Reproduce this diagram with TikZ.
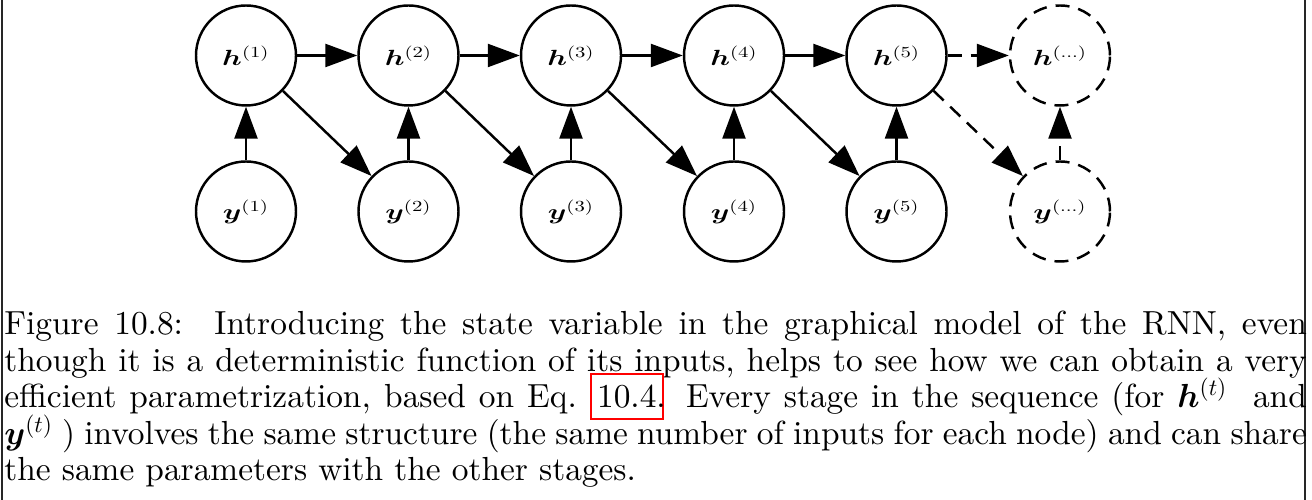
\RequirePackage{fix-cm}
\documentclass[tikz,border=0pt]{standalone}
\usepackage{bm}
\usepackage{graphicx}
\usetikzlibrary{arrows.meta}

% one design size for every size, as in the reference
\DeclareFontShape{TU}{lmr}{m}{n}{<->\UnicodeFontFile{lmroman10-regular}{\UnicodeFontTeXLigatures}}{}
\DeclareFontShape{OT1}{cmr}{m}{n}{<->cmr10}{}
\DeclareFontShape{OML}{cmm}{m}{it}{<->cmmi10}{}
\DeclareFontShape{OML}{cmm}{b}{it}{<->cmmib10}{}

\newcommand{\lbl}[2]{\scalebox{1.35}[1]{$\bm #1^{(#2)}$}}

\newsavebox{\linkcontent}
\newcommand{\linkbox}[1]{\sbox{\linkcontent}{#1}\rlap{\kern-4pt\raisebox{-5.7pt}{\textcolor{red}{\fboxsep=0pt\fboxrule=1.1pt\fbox{\rule{0pt}{\dimexpr\ht\linkcontent+11.7pt\relax}\rule{\dimexpr\wd\linkcontent+6pt\relax}{0pt}}}}}\usebox{\linkcontent}}

\begin{document}
\begin{tikzpicture}[
  unit/.style={circle,draw,line width=1.4pt,minimum size=2cm,inner sep=0pt,font=\fontsize{12.5}{14}\selectfont},
  ghost/.style={unit,dash pattern=on 0.28cm off 0.18cm},
  flow/.style={line width=1.4pt,-{Triangle[length=0.64cm,width=0.46cm]}},
  ghostflow/.style={flow,dash pattern=on 0.28cm off 0.18cm},
  captionline/.style={anchor=base west,inner sep=0pt,font=\fontsize{19}{21}\selectfont}
]
\useasboundingbox (0,0) rectangle (26.24,10);
%\draw[step=1cm,gray,very thin] (0,0) grid (26.24,10); %background grid

\draw[line width=0.05cm,black!85] (0.04,0) -- (0.04,10); %left border
\draw[line width=0.05cm,black!85] (26.1,0) -- (26.1,10); %right border

% hidden states
\node[unit] (h1) at (4.92,8.89) {\lbl{h}{1}};
\node[unit] (h2) at (8.17,8.89) {\lbl{h}{2}};
\node[unit] (h3) at (11.42,8.89) {\lbl{h}{3}};
\node[unit] (h4) at (14.68,8.89) {\lbl{h}{4}};
\node[unit] (h5) at (17.93,8.89) {\lbl{h}{5}};
\node[ghost] (hn) at (21.2,8.89) {\lbl{h}{\ldots}};

% outputs
\node[unit] (y1) at (4.92,5.77) {\lbl{y}{1}};
\node[unit] (y2) at (8.17,5.77) {\lbl{y}{2}};
\node[unit] (y3) at (11.42,5.77) {\lbl{y}{3}};
\node[unit] (y4) at (14.68,5.77) {\lbl{y}{4}};
\node[unit] (y5) at (17.93,5.77) {\lbl{y}{5}};
\node[ghost] (yn) at (21.2,5.77) {\lbl{y}{\ldots}};

\draw[flow] (h1) -- (h2); %chain
\draw[flow] (h2) -- (h3);
\draw[flow] (h3) -- (h4);
\draw[flow] (h4) -- (h5);
\draw[ghostflow] (h5) -- (hn);

\draw[flow] (y1) -- (h1); %up
\draw[flow] (y2) -- (h2);
\draw[flow] (y3) -- (h3);
\draw[flow] (y4) -- (h4);
\draw[flow] (y5) -- (h5);
\draw[ghostflow] (yn) -- (hn);

\draw[flow] (h1) -- (y2); %diagonal
\draw[flow] (h2) -- (y3);
\draw[flow] (h3) -- (y4);
\draw[flow] (h4) -- (y5);
\draw[ghostflow] (h5) -- (yn);

% caption
\node[captionline] (cap1) at (0.08,3.30) {\makebox[26.05cm][s]{Figure 10.8:\ \ Introducing the state variable in the graphical model of the RNN, even}};
\node[captionline] (cap2) at (0.08,2.56) {\makebox[26.05cm][s]{though it is a deterministic function of its inputs, helps to see how we can obtain a very}};
\node[captionline] (cap3) at (0.08,1.84) {\makebox[26.05cm][s]{efficient parametrization, based on Eq. \linkbox{10.4}. Every stage in the sequence (for $\bm h^{(t)}$\ \ and}};
\node[captionline] (cap4) at (0.08,1.10) {\makebox[26.05cm][s]{$\bm y^{(t)}$ ) involves the same structure (the same number of inputs for each node) and can share}};
\node[captionline] (cap5) at (0.08,0.38) {the same parameters with the other stages.};

\end{tikzpicture}
\end{document}
